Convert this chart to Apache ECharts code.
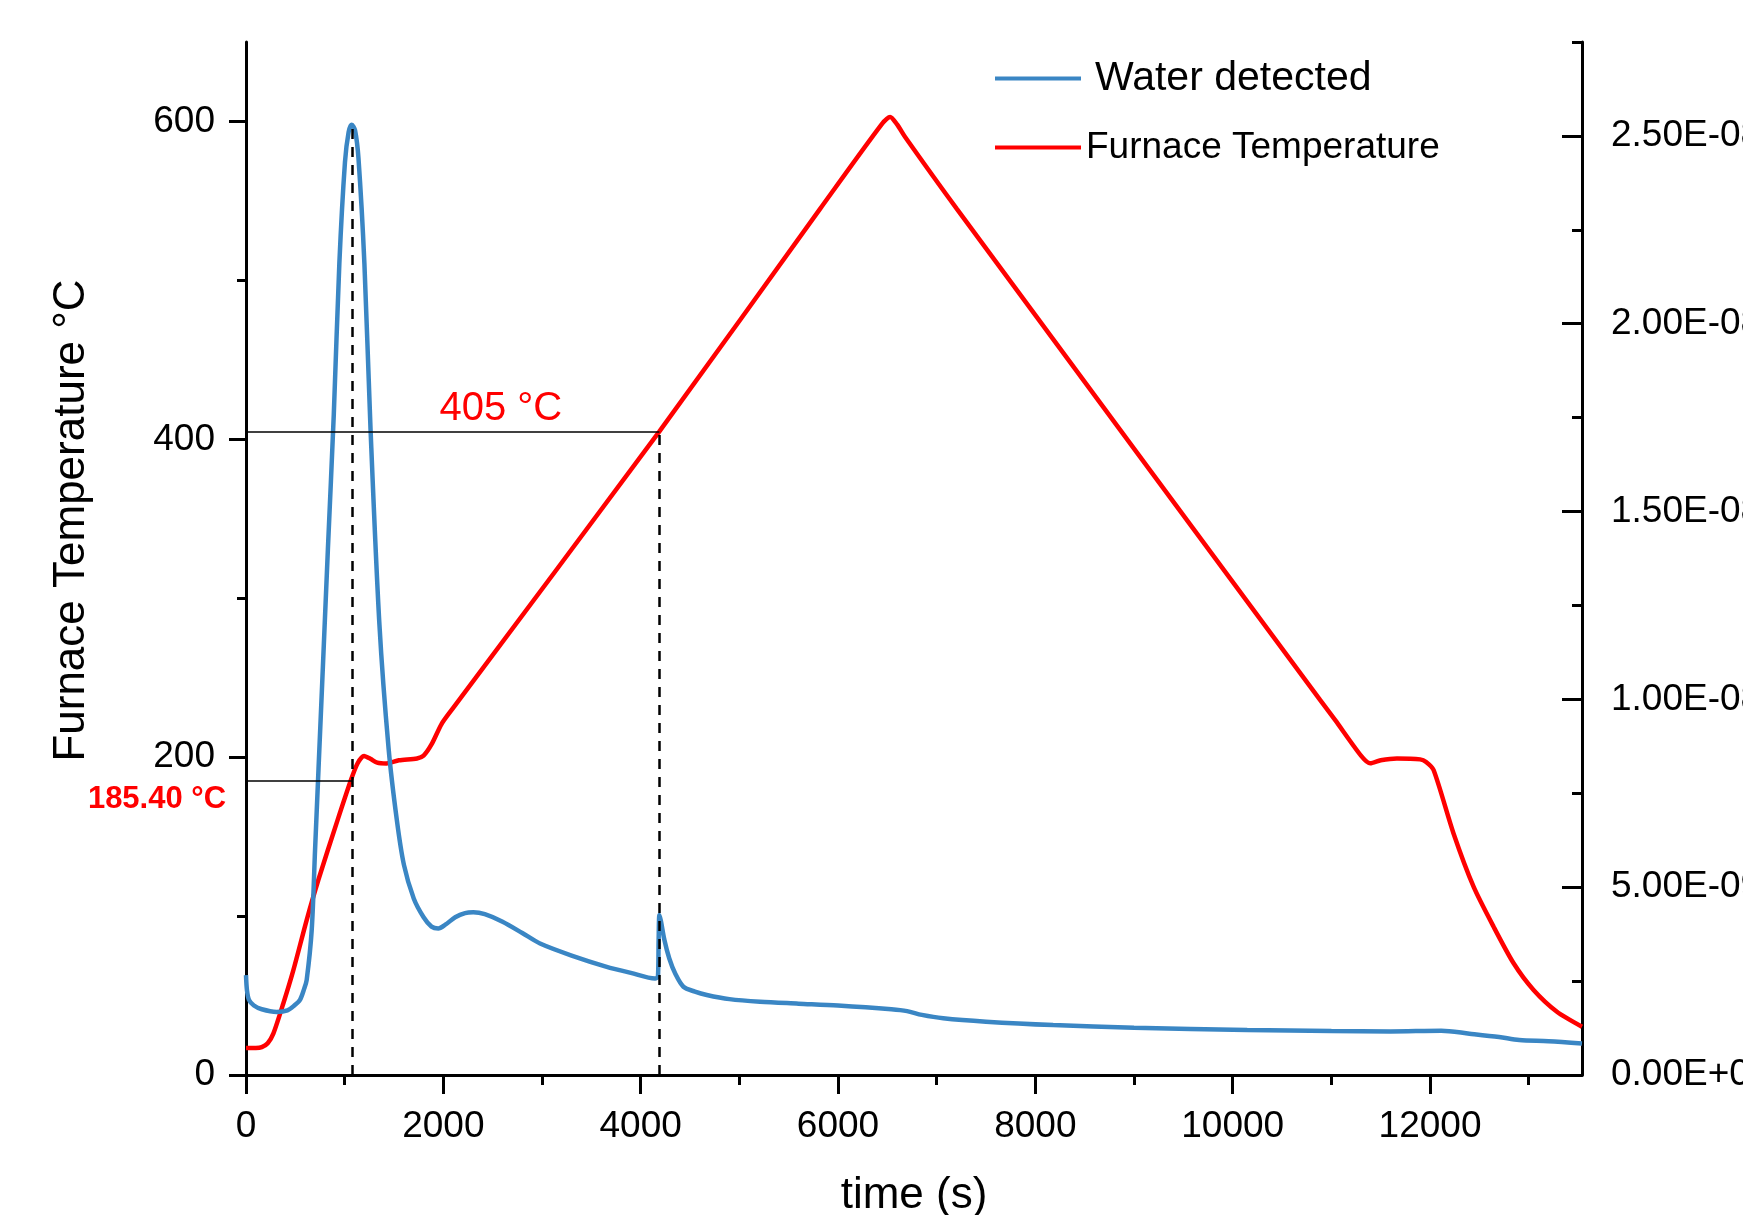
<!DOCTYPE html>
<html>
<head>
<meta charset="utf-8">
<script src="https://cdn.jsdelivr.net/npm/echarts@6.0.0/dist/echarts.min.js"></script>
<style>
html,body{margin:0;padding:0;background:#fff;}
#chart{width:1743px;height:1215px;}
</style>
</head>
<body>
<div id="chart"></div>
<script>
// ---- data ----
// Furnace temperature (°C) vs time (s)
const tempTime = [0,100,160,220,277,378,480,615,733,928,1060,1130,1196,1260,1330,1424,1550,1733,1800,1880,1983,2100,4190,5818,6440,6528,6600,6680,7204,10887,11039,11300,11394,11500,11665,11900,11960,12036,12238,12441,12644,12847,13049,13286,13540];
const tempVals = [17,17,17.5,20,26,45,66,97.5,122.7,160.4,185,196,200.7,199,196.5,196,198,199.2,201,208,221,231,405,545,598,602.8,598,590.2,545,235.9,223.3,201,196.1,198,199.2,198.6,197,191.9,152,118.5,93.3,70.3,53.5,39.8,30.4];
// Water detected (units of 1E-08) vs time (s)
const waterTime = [0,10,30,80,160,311,420,490,547,590,615,666,700,770,830,890,946,1003,1040,1072,1105,1140,1200,1262,1352,1445,1528,1600,1700,1800,1880,1949,2020,2120,2220,2304,2420,2600,2800,2980,3300,3656,3900,4146,4175,4182,4190,4205,4240,4290,4350,4433,4550,4670,4900,5210,5600,6000,6541,6700,6850,7066,7500,8180,9000,10147,11000,11600,12113,12400,12700,12904,13200,13540];
const waterVals = [0.266,0.225,0.200,0.185,0.175,0.168,0.172,0.185,0.200,0.23,0.253,0.386,0.60,1.03,1.40,1.76,2.16,2.43,2.51,2.53,2.515,2.44,2.16,1.72,1.20,0.87,0.68,0.56,0.47,0.42,0.395,0.390,0.400,0.420,0.431,0.433,0.428,0.408,0.378,0.350,0.318,0.288,0.272,0.257,0.262,0.36,0.426,0.41,0.36,0.31,0.27,0.235,0.222,0.213,0.202,0.195,0.190,0.185,0.175,0.170,0.160,0.151,0.142,0.133,0.126,0.120,0.117,0.116,0.118,0.110,0.101,0.093,0.090,0.084];

// axis ticks
const xMajor = [0,2000,4000,6000,8000,10000,12000];
const xMinor = [1000,3000,5000,7000,9000,11000,13000];
const yLeftMajor = [0,200,400,600];
const yLeftMinor = [100,300,500];
const yRightMajor = [0,0.5,1.0,1.5,2.0,2.5];
const yRightMinor = [0.25,0.75,1.25,1.75,2.25,2.75];

// annotations
const peakTime = 1076, peakTemp = 185.4, peakTop = 597;
const endTime = 4190, endTemp = 405;

const FONT = "'Liberation Sans', Arial, sans-serif";
const tempData = tempTime.map((t,i)=>[t,tempVals[i]]);
const waterData = waterTime.map((t,i)=>[t,waterVals[i]]);

function rightFmt(v){
  if (Math.abs(v) < 1e-9) return '0.00E+00';
  if (v < 1) return (v*10).toFixed(2) + 'E-09';
  return v.toFixed(2) + 'E-08';
}

const chart = echarts.init(document.getElementById('chart'), null, {renderer:'canvas'});
const lineCol = '#000';
chart.setOption({
  backgroundColor:'#fff',
  animation:false,
  textStyle:{fontFamily:FONT},
  grid:{left:246,right:161,top:42,bottom:140,containLabel:false,outerBoundsMode:'none'},
  legend:{
    left:995, top:58, orient:'vertical', itemGap:30, padding:0,
    itemWidth:86, itemHeight:4, icon:'rect', selectedMode:false,
    data:['Water detected','Furnace Temperature'],
    formatter:function(n){ return n==='Water detected' ? '{a|'+n+'}' : '{b|'+n+'}'; },
    textStyle:{color:'#000',fontFamily:FONT,
      rich:{a:{fontSize:41,lineHeight:40,padding:[0,0,0,9],fontFamily:FONT,color:'#000'},
            b:{fontSize:37,lineHeight:40,fontFamily:FONT,color:'#000'}}}
  },
  xAxis:[
    {type:'value',min:0,max:13540,position:'bottom',
     name:'time (s)',nameLocation:'middle',nameGap:99,nameMoveOverlap:false,
     nameTextStyle:{fontSize:44,color:'#000',fontFamily:FONT},
     axisLine:{show:true,onZero:false,lineStyle:{color:lineCol,width:3}},
     axisTick:{show:true,customValues:xMajor,length:19,lineStyle:{color:lineCol,width:3}},
     axisLabel:{show:true,customValues:xMajor,fontSize:37,color:'#000',margin:33,fontFamily:FONT,
       formatter:function(v){return String(Math.round(v));}},
     splitLine:{show:false}},
    {type:'value',min:0,max:13540,position:'bottom',
     axisLine:{show:false,onZero:false},
     axisTick:{show:true,customValues:xMinor,length:10,lineStyle:{color:lineCol,width:3}},
     axisLabel:{show:false},splitLine:{show:false}}
  ],
  yAxis:[
    {type:'value',min:0,max:650,position:'left',
     name:'Furnace Temperature °C',nameLocation:'middle',nameGap:152,nameRotate:90,nameMoveOverlap:false,
     nameTextStyle:{fontSize:44,color:'#000',fontFamily:FONT,padding:[0,0,0,76]},
     axisLine:{show:true,onZero:false,lineStyle:{color:lineCol,width:3}},
     axisTick:{show:true,customValues:yLeftMajor,length:17,lineStyle:{color:lineCol,width:3}},
     axisLabel:{show:true,customValues:yLeftMajor,fontSize:37,color:'#000',margin:31,fontFamily:FONT,
       formatter:function(v){return String(Math.round(v));}},
     splitLine:{show:false}},
    {type:'value',min:0,max:650,position:'left',
     axisLine:{show:false,onZero:false},
     axisTick:{show:true,customValues:yLeftMinor,length:9,lineStyle:{color:lineCol,width:3}},
     axisLabel:{show:false},splitLine:{show:false}},
    {type:'value',min:0,max:2.75,position:'right',
     axisLine:{show:true,onZero:false,lineStyle:{color:lineCol,width:3}},
     axisTick:{show:true,inside:true,customValues:yRightMajor,length:20,lineStyle:{color:lineCol,width:3}},
     axisLabel:{show:true,customValues:yRightMajor,fontSize:37,color:'#000',margin:29,fontFamily:FONT,formatter:rightFmt},
     splitLine:{show:false}},
    {type:'value',min:0,max:2.75,position:'right',
     axisLine:{show:false,onZero:false},
     axisTick:{show:true,inside:true,customValues:yRightMinor,length:10,lineStyle:{color:lineCol,width:3}},
     axisLabel:{show:false},splitLine:{show:false}}
  ],
  series:[
    {name:'Water detected',type:'line',xAxisIndex:0,yAxisIndex:2,data:waterData,
     showSymbol:false,smooth:0.3,z:4,
     lineStyle:{color:'#3a86c4',width:4.5},itemStyle:{color:'#3a86c4'}},
    {name:'Furnace Temperature',type:'line',xAxisIndex:0,yAxisIndex:0,data:tempData,
     showSymbol:false,smooth:0.25,z:3,
     lineStyle:{color:'#ff0000',width:4.5},itemStyle:{color:'#ff0000'},
     markLine:{silent:true,symbol:['none','none'],label:{show:false},animation:false,
       data:[
         [{coord:[0,endTemp],lineStyle:{color:'#000',width:1.5,type:'solid'}},{coord:[endTime,endTemp]}],
         [{coord:[0,peakTemp],lineStyle:{color:'#000',width:1.5,type:'solid'}},{coord:[peakTime,peakTemp]}],
         [{coord:[peakTime,0],lineStyle:{color:'#000',width:2.5,type:[10,8]}},{coord:[peakTime,peakTop]}],
         [{coord:[endTime,0],lineStyle:{color:'#000',width:2.5,type:[10,8]}},{coord:[endTime,endTemp]}]
       ]},
     markPoint:{silent:true,symbol:'circle',symbolSize:0,animation:false,
       data:[
         {coord:[2583,419],label:{show:true,position:'inside',formatter:'405 °C',color:'#ff0000',fontSize:40,fontFamily:FONT}},
         {coord:[0,peakTemp],label:{show:true,position:'inside',offset:[-89,19],formatter:'185.40 °C',color:'#ff0000',fontSize:31,fontWeight:'bold',fontFamily:FONT}}
       ]}
    }
  ]
});
</script>
</body>
</html>
